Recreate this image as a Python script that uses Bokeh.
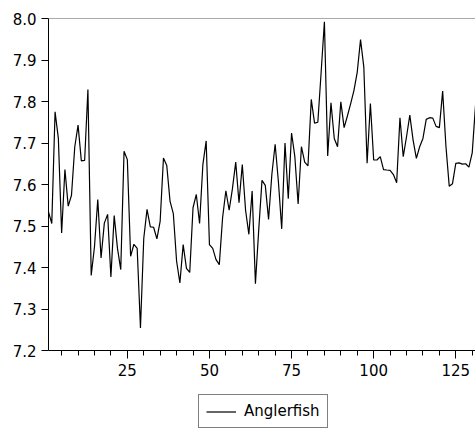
from bokeh.plotting import figure
from bokeh.layouts import column
from bokeh.models import (Legend, LegendItem, Span, SingleIntervalTicker, FixedTicker,
                          PrintfTickFormatter, Range1d)
from bokeh.embed import file_html
from bokeh.resources import INLINE

series_name = "Anglerfish"
obs = list(range(1, 132))
values = [
    7.534, 7.506, 7.775, 7.711, 7.483, 7.636, 7.548, 7.574, 7.691, 7.743,
    7.657, 7.658, 7.829, 7.381, 7.450, 7.564, 7.423, 7.507, 7.528, 7.377,
    7.525, 7.446, 7.395, 7.680, 7.660, 7.427, 7.456, 7.446, 7.254, 7.470,
    7.540, 7.498, 7.497, 7.469, 7.512, 7.664, 7.646, 7.560, 7.530, 7.415,
    7.363, 7.455, 7.398, 7.388, 7.544, 7.576, 7.506, 7.648, 7.705, 7.455,
    7.446, 7.419, 7.407, 7.520, 7.585, 7.538, 7.590, 7.654, 7.556, 7.648,
    7.538, 7.480, 7.584, 7.361, 7.490, 7.610, 7.598, 7.516, 7.624, 7.697,
    7.606, 7.493, 7.700, 7.566, 7.724, 7.667, 7.553, 7.691, 7.654, 7.645,
    7.805, 7.748, 7.750, 7.870, 7.992, 7.669, 7.797, 7.711, 7.691, 7.799,
    7.737, 7.765, 7.795, 7.827, 7.871, 7.949, 7.883, 7.651, 7.795, 7.659,
    7.659, 7.667, 7.636, 7.635, 7.634, 7.624, 7.604, 7.761, 7.667, 7.715,
    7.767, 7.707, 7.663, 7.691, 7.711, 7.757, 7.761, 7.760, 7.740, 7.737,
    7.825, 7.692, 7.596, 7.602, 7.651, 7.652, 7.649, 7.650, 7.642, 7.676,
    7.790,
]
y_ticks = [7.2, 7.3, 7.4, 7.5, 7.6, 7.7, 7.8, 7.9, 8.0]

FONT = "DejaVu Sans"
FS = "15px"

p = figure(width=475, height=380, output_backend="svg", toolbar_location=None,
           x_range=Range1d(1, 131), y_range=Range1d(7.2, 8.0),
           min_border_left=48, min_border_right=0, min_border_top=18,
           min_border_bottom=30)
p.grid.visible = False
p.outline_line_color = None
p.background_fill_color = "white"
p.border_fill_color = "white"

p.add_layout(Span(location=8.0, dimension="width", line_color="#555555", line_width=1))

p.line(obs, values, line_color="black", line_width=1.2)

xa = p.xaxis[0]
xa.ticker = SingleIntervalTicker(interval=25, num_minor_ticks=5)
xa.major_tick_out = 8
xa.major_tick_in = 0
xa.minor_tick_out = 5
xa.minor_tick_in = 0
xa.major_label_standoff = 5

ya = p.yaxis[0]
ya.ticker = FixedTicker(ticks=y_ticks, minor_ticks=[])
ya.formatter = PrintfTickFormatter(format="%.1f")
ya.major_tick_out = 7
ya.major_tick_in = 0
ya.major_label_standoff = 5

for ax in (xa, ya):
    ax.axis_line_color = "black"
    ax.major_tick_line_color = "black"
    ax.minor_tick_line_color = "black"
    ax.major_label_text_font = FONT
    ax.major_label_text_font_size = FS
    ax.major_label_text_color = "black"

# legend strip below the chart (same series, drawn out of view; only its legend shows)
p2 = figure(width=475, height=50, output_backend="svg", toolbar_location=None,
            x_range=Range1d(-20, -10), y_range=Range1d(0, 1),
            min_border=0, x_axis_type=None, y_axis_type=None)
p2.grid.visible = False
p2.outline_line_color = None
p2.background_fill_color = "white"
p2.border_fill_color = "white"
r2 = p2.line(obs, values, line_color="black", line_width=1.2)

legend = Legend(items=[LegendItem(label=series_name, renderers=[r2])],
                location=(150, 2), orientation="horizontal",
                border_line_color="black", border_line_width=1,
                padding=7, label_standoff=8, glyph_width=30, glyph_height=17,
                label_text_font=FONT, label_text_font_size=FS,
                label_text_color="black", margin=0, spacing=0)
p2.add_layout(legend)

open("out.html", "w").write(file_html(column(p, p2, spacing=0), INLINE))
